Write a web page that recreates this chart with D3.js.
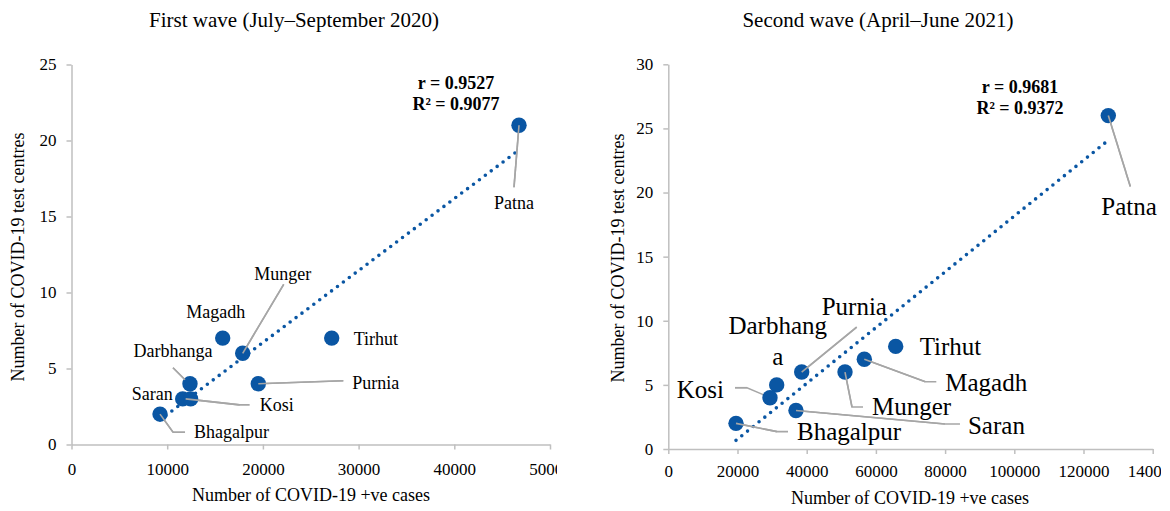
<!DOCTYPE html>
<html>
<head>
<meta charset="utf-8">
<script src="https://cdn.jsdelivr.net/npm/d3@7"></script>
<style>
  html, body { margin: 0; padding: 0; background: #fff; }
  svg { display: block; }
  text { font-family: "Liberation Serif", "Times New Roman", serif; fill: #000; }
</style>
</head>
<body>
<svg id="chart" width="1170" height="511"></svg>
<script>
// ---------- DATA ----------
const regions = ["Patna", "Tirhut", "Purnia", "Munger", "Magadh", "Darbhanga", "Saran", "Kosi", "Bhagalpur"];
// First wave (July–September 2020)
const casesWave1   = [46760, 27190, 19520, 17890, 15800, 12380, 11620, 12450, 9250];
const centresWave1 = [21, 7, 4, 6, 7, 4, 3, 3, 2];
// Second wave (April–June 2021)
const casesWave2   = [127170, 65720, 38550, 51070, 56650, 31330, 36900, 29390, 19570];
const centresWave2 = [26, 8, 6, 6, 7, 5, 3, 4, 2];

const titles = ["First wave (July–September 2020)", "Second wave (April–June 2021)"];
const statsWave1 = ["r = 0.9527", "R² = 0.9077"];
const statsWave2 = ["r = 0.9681", "R² = 0.9372"];
const xTicksWave1 = [0, 10000, 20000, 30000, 40000, 50000];
const yTicksWave1 = [0, 5, 10, 15, 20, 25];
const xTicksWave2 = [0, 20000, 40000, 60000, 80000, 100000, 120000, 140000];
const yTicksWave2 = [0, 5, 10, 15, 20, 25, 30];
const xTitle = "Number of COVID-19 +ve cases";
const yTitle = "Number of COVID-19 test centres";

// ---------- LAYOUT (label placement, pixels relative to marker) ----------
const labelLayout1 = {
  Patna:     {anchor: "middle", dx: -5,   dy: 84, leader: [[0,0],[-5,62]]},
  Tirhut:    {anchor: "start",  dx: 22,   dy: 7},
  Purnia:    {anchor: "start",  dx: 94,   dy: 5,  leader: [[0,0],[85,-3]]},
  Munger:    {anchor: "middle", dx: 40,   dy: -73, leader: [[0,0],[41,-69]]},
  Magadh:    {anchor: "middle", dx: -7,   dy: -20},
  Darbhanga: {anchor: "middle", dx: -17,  dy: -27, leader: [[-17,-16],[-5,-4]]},
  Saran:     {anchor: "end",    dx: -10,  dy: 1},
  Kosi:      {anchor: "start",  dx: 69,   dy: 12, leader: [[-5,0],[49,6],[59,6]]},
  Bhagalpur: {anchor: "start",  dx: 34,   dy: 24, leader: [[0,0],[13,18],[25,18]]}
};
const labelLayout2 = {
  Patna:     {anchor: "start",  dx: -7,   dy: 99, leader: [[0,0],[22,71]]},
  Tirhut:    {anchor: "start",  dx: 24,   dy: 9},
  Purnia:    {anchor: "start",  dx: 20,   dy: -57, leader: [[0,0],[55,-45]]},
  Munger:    {anchor: "start",  dx: 27,   dy: 43, leader: [[0,0],[7,35],[18,35]]},
  Magadh:    {anchor: "start",  dx: 81,   dy: 32, leader: [[0,0],[61,22.5],[72,22.5]]},
  Darbhanga: {anchor: "middle", dx: 1,    dy: -51, lines: ["Darbhang", "a"], lineGap: 31},
  Saran:     {anchor: "start",  dx: 172,  dy: 23, leader: [[0,0],[149,13.5],[164,13.5]]},
  Kosi:      {anchor: "end",    dx: -46,  dy: 0,  leader: [[-35,-10],[-23,-10],[-2,-1]]},
  Bhagalpur: {anchor: "start",  dx: 61,   dy: 17, leader: [[0,0],[41,8.3],[52,8.3]]}
};

const BLUE = "#0a56a3";
const AXIS = "#bfbfbf";
const LEADER = "#a6a6a6";

const svg = d3.select("#chart");

function panel(cfg) {
  const g = svg.append("g").attr("clip-path", `url(#${cfg.id}-clip)`);
  svg.append("clipPath").attr("id", cfg.id + "-clip")
    .append("rect").attr("x", cfg.clip[0]).attr("y", 0)
    .attr("width", cfg.clip[1] - cfg.clip[0]).attr("height", 511);

  const x = d3.scaleLinear().domain(cfg.xDomain).range(cfg.xRange);
  const y = d3.scaleLinear().domain(cfg.yDomain).range(cfg.yRange);

  // title
  g.append("text").attr("x", cfg.titlePos[0]).attr("y", cfg.titlePos[1])
    .attr("text-anchor", "middle").style("font-size", "21px").text(cfg.title);

  // axes
  const xAxis = g.append("g").attr("transform", `translate(0,${cfg.yRange[0]})`)
    .call(d3.axisBottom(x).tickValues(cfg.xTicks).tickFormat(d3.format("d"))
      .tickSize(5).tickSizeOuter(0).tickPadding(cfg.xPad));
  const yAxis = g.append("g").attr("transform", `translate(${cfg.xRange[0]},0)`)
    .call(d3.axisLeft(y).tickValues(cfg.yTicks).tickFormat(d3.format("d"))
      .tickSize(5).tickSizeOuter(0).tickPadding(10));
  [xAxis, yAxis].forEach(a => {
    a.attr("font-family", null).attr("font-size", null);
    a.select(".domain").attr("stroke", AXIS).attr("stroke-width", 1.5);
    a.selectAll(".tick line").attr("stroke", AXIS).attr("stroke-width", 1.5);
    a.selectAll(".tick text").style("font-size", "17px").attr("fill", "#000");
  });

  // axis titles
  g.append("text").attr("x", cfg.xTitlePos[0]).attr("y", cfg.xTitlePos[1])
    .attr("text-anchor", "middle").style("font-size", "18px").text(xTitle);
  g.append("text")
    .attr("transform", `translate(${cfg.yTitlePos[0]},${cfg.yTitlePos[1]}) rotate(-90)`)
    .attr("text-anchor", "middle").style("font-size", "18px").text(yTitle);

  const pts = regions.map((r, i) => ({name: r, cx: cfg.cases[i], cy: cfg.centres[i]}));

  // trendline (least squares fit of the data)
  const mx = d3.mean(pts, d => d.cx), my = d3.mean(pts, d => d.cy);
  const slope = d3.sum(pts, d => (d.cx - mx) * (d.cy - my)) / d3.sum(pts, d => (d.cx - mx) ** 2);
  const icpt = my - slope * mx;
  const [xmin, xmax] = d3.extent(pts, d => d.cx);
  g.append("path")
    .attr("d", d3.line()([[x(xmin), y(icpt + slope * xmin)], [x(xmax), y(icpt + slope * xmax)]]))
    .attr("stroke", BLUE).attr("stroke-width", 3.6).attr("stroke-linecap", "round")
    .attr("stroke-dasharray", "0 7.4").attr("fill", "none");

  // leader lines
  const lineGen = d3.line();
  pts.forEach(p => {
    const L = cfg.layout[p.name];
    if (!L.leader) return;
    const px = x(p.cx), py = y(p.cy);
    g.append("path").attr("d", lineGen(L.leader.map(([a, b]) => [px + a, py + b])))
      .attr("stroke", LEADER).attr("stroke-width", 1.6).attr("fill", "none");
  });

  // markers
  g.selectAll("circle.pt").data(pts).join("circle").attr("class", "pt")
    .attr("cx", d => x(d.cx)).attr("cy", d => y(d.cy)).attr("r", 7.7).attr("fill", BLUE);

  // redraw leader line start over the marker (as in reference)
  pts.forEach(p => {
    const L = cfg.layout[p.name];
    if (!L.leader) return;
    const px = x(p.cx), py = y(p.cy);
    g.append("path").attr("d", lineGen(L.leader.slice(0, 2).map(([a, b]) => [px + a, py + b])))
      .attr("stroke", LEADER).attr("stroke-width", 1.6).attr("fill", "none");
  });

  // labels
  pts.forEach(p => {
    const L = cfg.layout[p.name];
    const px = x(p.cx), py = y(p.cy);
    const lines = L.lines || [p.name];
    lines.forEach((t, k) => {
      g.append("text").attr("x", px + L.dx).attr("y", py + L.dy + k * (L.lineGap || 0))
        .attr("text-anchor", L.anchor).style("font-size", cfg.labelSize + "px").text(t);
    });
  });

  // statistics
  cfg.stats.forEach((t, k) => {
    g.append("text").attr("x", cfg.statsPos[0]).attr("y", cfg.statsPos[1] + k * 21)
      .attr("text-anchor", "middle").style("font-size", "18px").style("font-weight", "bold").text(t);
  });
}

panel({
  id: "w1", clip: [0, 557],
  cases: casesWave1, centres: centresWave1, layout: labelLayout1, labelSize: 18,
  xDomain: [0, 50000], xRange: [71.5, 550], yDomain: [0, 25], yRange: [444.5, 64.5],
  xTicks: xTicksWave1, yTicks: yTicksWave1, xPad: 13,
  title: titles[0], titlePos: [294, 27],
  xTitlePos: [311, 501], yTitlePos: [24, 257],
  stats: statsWave1, statsPos: [456, 89]
});
panel({
  id: "w2", clip: [590, 1161],
  cases: casesWave2, centres: centresWave2, layout: labelLayout2, labelSize: 25,
  xDomain: [0, 140000], xRange: [668.3, 1152.7], yDomain: [0, 30], yRange: [449, 64.3],
  xTicks: xTicksWave2, yTicks: yTicksWave2, xPad: 11,
  title: titles[1], titlePos: [878, 27],
  xTitlePos: [910, 504], yTitlePos: [624, 258],
  stats: statsWave2, statsPos: [1020, 93]
});
</script>
</body>
</html>
